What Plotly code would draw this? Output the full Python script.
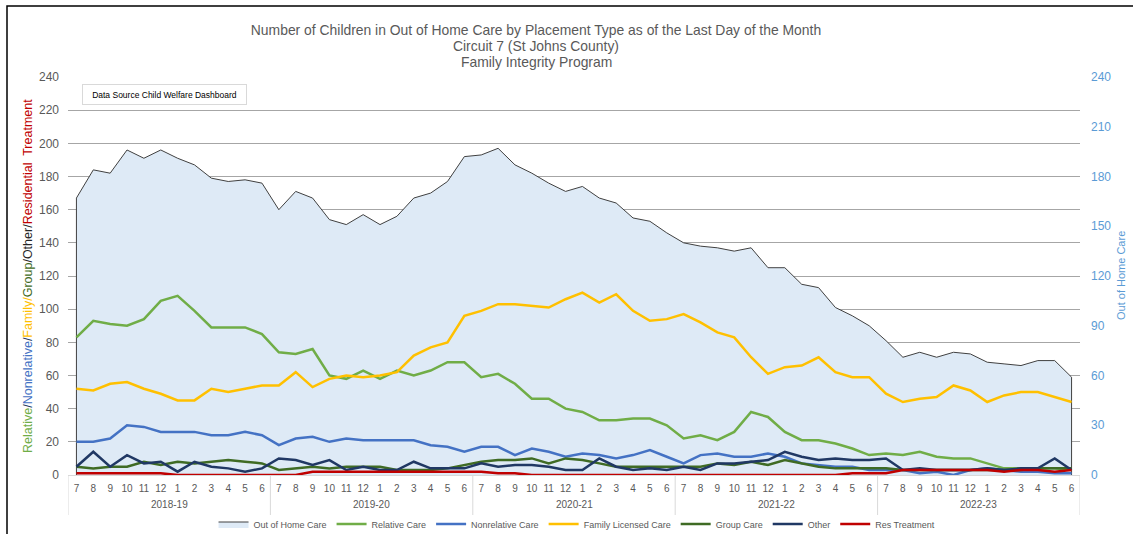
import plotly.graph_objects as go

# Category labels
fiscal_years = ["2018-19", "2019-20", "2020-21", "2021-22", "2022-23"]
month_labels = ["7", "8", "9", "10", "11", "12", "1", "2", "3", "4", "5", "6"]

# Monthly counts, July 2018 - June 2023
out_of_home_care = [167, 184, 182, 196, 191, 196, 191, 187, 179, 177, 178, 176,
                    160, 171, 167, 154, 151, 157, 151, 156, 167, 170, 177, 192,
                    193, 197, 187, 182, 176, 171, 174, 167, 164, 155, 153, 146,
                    140, 138, 137, 135, 137, 125, 125, 115, 113, 101, 96, 90,
                    81, 71, 74, 71, 74, 73, 68, 67, 66, 69, 69, 59]
relative_care = [83, 93, 91, 90, 94, 105, 108, 99, 89, 89, 89, 85,
                 74, 73, 76, 60, 58, 63, 58, 63, 60, 63, 68, 68,
                 59, 61, 55, 46, 46, 40, 38, 33, 33, 34, 34, 30,
                 22, 24, 21, 26, 38, 35, 26, 21, 21, 19, 16, 12,
                 13, 12, 14, 11, 10, 10, 7, 4, 4, 4, 4, 3]
nonrelative_care = [20, 20, 22, 30, 29, 26, 26, 26, 24, 24, 26, 24,
                    18, 22, 23, 20, 22, 21, 21, 21, 21, 18, 17, 14,
                    17, 17, 12, 16, 14, 11, 13, 12, 10, 12, 15, 11,
                    7, 12, 13, 11, 11, 13, 11, 7, 6, 5, 5, 3,
                    3, 3, 1, 2, 0, 3, 4, 3, 2, 2, 1, 1]
family_licensed_care = [52, 51, 55, 56, 52, 49, 45, 45, 52, 50, 52, 54,
                        54, 62, 53, 58, 60, 59, 60, 62, 72, 77, 80, 96,
                        99, 103, 103, 102, 101, 106, 110, 104, 109, 99, 93, 94,
                        97, 92, 86, 83, 71, 61, 65, 66, 71, 62, 59, 59,
                        49, 44, 46, 47, 54, 51, 44, 48, 50, 50, 47, 44]
group_care = [5, 4, 5, 5, 8, 6, 8, 7, 8, 9, 8, 7,
              3, 4, 5, 4, 5, 5, 5, 3, 3, 3, 4, 6,
              8, 9, 9, 10, 7, 10, 9, 7, 5, 5, 5, 5,
              5, 5, 7, 6, 8, 6, 9, 7, 5, 4, 4, 4,
              4, 3, 3, 3, 3, 3, 3, 3, 3, 4, 4, 4]
other = [5, 14, 5, 12, 7, 8, 2, 8, 5, 4, 2, 4,
         10, 9, 6, 9, 3, 5, 3, 3, 8, 4, 4, 4,
         7, 5, 6, 6, 5, 3, 3, 10, 5, 3, 4, 3,
         5, 3, 7, 7, 8, 9, 14, 11, 9, 10, 9, 9,
         10, 3, 4, 3, 3, 3, 4, 3, 4, 4, 10, 3]
res_treatment = [1, 1, 1, 1, 1, 1, 0, 0, 0, 0, 0, 0,
                 0, 0, 2, 2, 2, 2, 2, 2, 2, 2, 2, 2,
                 2, 1, 1, 0, 0, 0, 0, 0, 0, 0, 0, 0,
                 0, 0, 0, 0, 0, 0, 0, 0, 0, 0, 1, 1,
                 1, 3, 3, 3, 3, 3, 3, 2, 3, 3, 2, 3]

# Month slots along the x axis, grouped by fiscal year
n_months = len(month_labels)
month_level = month_labels * len(fiscal_years)
slots = list(range(len(month_level)))

# Closed outline so the Out of Home Care area gets its side edges
area_x = [slots[0]] + slots + [slots[-1]]
area_y = [0] + out_of_home_care + [0]

FONT = "Liberation Sans, Arial, sans-serif"
GREY = "#595959"
RIGHT_BLUE = "#5B9BD5"
DIVIDER = "#D9D9D9"

fig = go.Figure()

fig.add_trace(go.Scatter(
    x=area_x, y=area_y, name="Out of Home Care", mode="lines",
    fill="toself", fillcolor="#DEEAF6",
    line=dict(color="#404040", width=1),
))

line_series = [
    ("Relative Care", relative_care, "#70AD47"),
    ("Nonrelative Care", nonrelative_care, "#4472C4"),
    ("Family Licensed Care", family_licensed_care, "#FFC000"),
    ("Group Care", group_care, "#3F6B24"),
    ("Other", other, "#203864"),
    ("Res Treatment", res_treatment, "#C00000"),
]
for name, values, color in line_series:
    fig.add_trace(go.Scatter(
        x=slots, y=values, name=name, mode="lines",
        line=dict(color=color, width=2.5),
    ))

# Secondary (right) axis carries the Out of Home Care scale
fig.add_trace(go.Scatter(
    x=slots, y=out_of_home_care, yaxis="y2", mode="lines",
    line=dict(width=0, color="rgba(0,0,0,0)"), hoverinfo="skip",
    showlegend=False,
))

left_title = (
    '<span style="color:#70AD47">Relative</span>'
    '<span style="color:#203864">/</span>'
    '<span style="color:#4472C4">Nonrelative</span>'
    '<span style="color:#203864">/</span>'
    '<span style="color:#FFC000">Family</span>'
    '<span style="color:#FFC000">/</span>'
    '<span style="color:#3F6B24">Group</span>'
    '<span style="color:#262626">/Other/</span>'
    '<span style="color:#C00000">Residential  Treatment</span>'
)

title_lines = [
    "Number of Children in Out of Home Care by Placement Type as of the Last Day of the Month",
    "Circuit 7 (St Johns County)",
    "Family Integrity Program",
]

fig.update_layout(
    width=1133, height=534,
    margin=dict(l=68, r=53, t=77, b=59),
    paper_bgcolor="white", plot_bgcolor="white",
    font=dict(family=FONT, color=GREY, size=11),
    title=dict(
        text=title_lines[0],
        x=536 / 1133, xanchor="center", xref="container",
        y=1 - 30 / 534, yanchor="middle", yref="container",
        font=dict(family=FONT, size=13.9, color=GREY),
    ),
    xaxis=dict(
        range=[-0.5, len(slots) - 0.5], automargin=False,
        tickmode="array", tickvals=slots, ticktext=month_level,
        tickangle=0, ticks="", ticklabelstandoff=4,
        showgrid=False, zeroline=False,
        showline=True, linecolor=DIVIDER, linewidth=1,
        tickfont=dict(family=FONT, size=10, color=GREY),
    ),
    yaxis=dict(
        range=[0, 240], tick0=0, dtick=20, automargin=False,
        showgrid=True, gridcolor="#A6A6A6", gridwidth=1,
        zeroline=False, showline=False, ticks="",
        tickfont=dict(family=FONT, size=12, color=GREY),
        ticklabelstandoff=8,
    ),
    yaxis2=dict(
        overlaying="y", side="right", range=[0, 240], tick0=0, dtick=30,
        automargin=False,
        showgrid=False, zeroline=False, showline=False, ticks="",
        tickfont=dict(family=FONT, size=12, color=RIGHT_BLUE),
        ticklabelstandoff=10,
    ),
    legend=dict(
        orientation="h", x=0.503, xanchor="center",
        y=10 / 534, yanchor="middle", yref="container",
        font=dict(family=FONT, size=9, color=GREY),
        bgcolor="rgba(0,0,0,0)", tracegroupgap=0,
    ),
    showlegend=True,
)

# Fiscal-year group labels and the dividers between them
for k, fy in enumerate(fiscal_years):
    first, last = k * n_months, (k + 1) * n_months - 1
    fig.add_annotation(
        text=fy, xref="x", yref="paper",
        x=(first + last) / 2, y=-29 / 398,
        xanchor="center", yanchor="middle", showarrow=False,
        font=dict(family=FONT, size=10, color=GREY),
    )
for k in range(len(fiscal_years) + 1):
    fig.add_shape(
        type="line", xref="x", yref="paper",
        x0=k * n_months - 0.5, x1=k * n_months - 0.5,
        y0=0, y1=-40 / 398,
        line=dict(color=DIVIDER, width=1),
    )

# Second and third title lines
for i, line in enumerate(title_lines[1:], start=1):
    fig.add_annotation(
        text=line, xref="paper", yref="paper",
        x=(536 - 68) / 1012, y=(475 - (30 + 16 * i)) / 398,
        xanchor="center", yanchor="middle", showarrow=False,
        font=dict(family=FONT, size=13.9, color=GREY),
    )

fig.add_annotation(
    text="Data Source Child Welfare Dashboard",
    xref="paper", yref="paper", x=(82 - 68) / 1012, y=(475 - 84) / 398,
    xanchor="left", yanchor="top", showarrow=False,
    width=155, height=11, align="center",
    font=dict(family=FONT, size=8.5, color="#000000"),
    bordercolor="#D9D9D9", borderwidth=1, borderpad=4, bgcolor="white",
)
fig.add_annotation(
    text=left_title, textangle=-90,
    xref="paper", yref="paper", x=(28 - 68) / 1012, y=0.5,
    xanchor="center", yanchor="middle", showarrow=False,
    font=dict(family=FONT, size=12.5),
)
fig.add_annotation(
    text="Out of Home Care", textangle=-90,
    xref="paper", yref="paper", x=(1121 - 68) / 1012, y=0.5,
    xanchor="center", yanchor="middle", showarrow=False,
    font=dict(family=FONT, size=11, color=RIGHT_BLUE),
)

# Chart frame
fig.add_shape(
    type="rect", xref="paper", yref="paper",
    x0=(7 - 68) / 1012, x1=(1140 - 68) / 1012,
    y0=(475 - 545) / 398, y1=(475 - 6) / 398,
    line=dict(color="#000000", width=1.5), fillcolor="rgba(0,0,0,0)",
    layer="above",
)

fig.write_html("out.html")
